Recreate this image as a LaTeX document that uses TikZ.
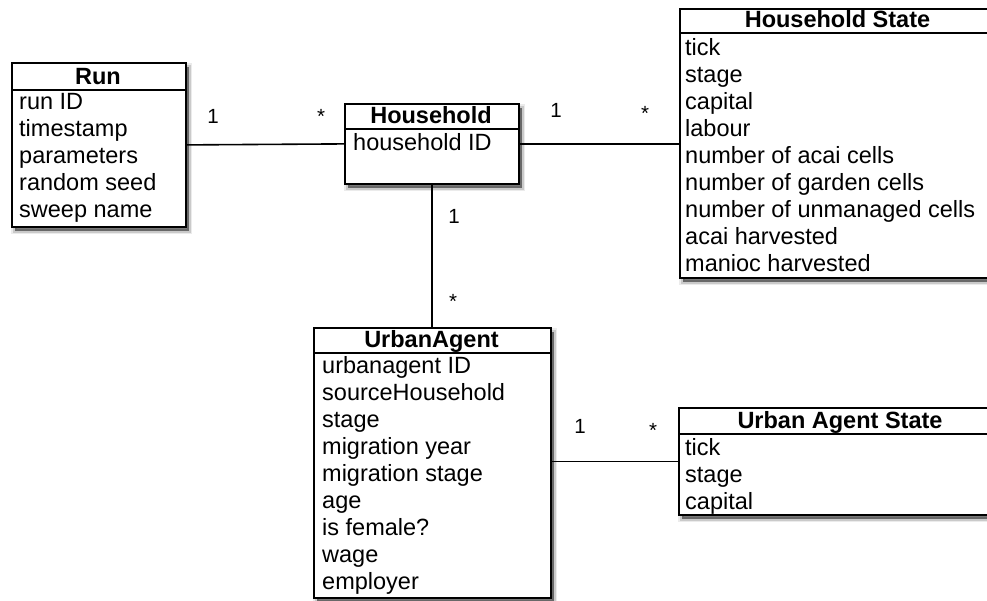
\documentclass[tikz,border=0pt]{standalone}
\usepackage{fontspec}
\setmainfont{Liberation Sans}
\usetikzlibrary{shadows}
\tikzset{
  softshadow/.style={
    general shadow={shadow xshift=3pt, shadow yshift=-4pt, fill=black, draw=black, line width=7pt, opacity=0.08},
    general shadow={shadow xshift=3pt, shadow yshift=-4pt, fill=black, draw=black, line width=3.5pt, opacity=0.14},
    general shadow={shadow xshift=3pt, shadow yshift=-4pt, fill=black, opacity=0.35}},
  classbox/.style={draw, line width=1.8pt, fill=white, inner sep=0pt, anchor=north west, softshadow},
  sepline/.style={line width=1.8pt},
  conn/.style={line width=1.6pt},
  title/.style={font=\fontsize{23.5}{27}\selectfont\bfseries, inner sep=0pt, anchor=base},
  attr/.style={font=\fontsize{23.5}{27}\selectfont, inner sep=0pt, anchor=base west},
  mult/.style={font=\fontsize{20.5}{24}\selectfont, inner sep=0pt, anchor=base}
}
\begin{document}
\begin{tikzpicture}[x=1pt, y=-1pt]
\useasboundingbox (0,0) rectangle (987,600);
\clip (0,0) rectangle (987,600);

% Run
\node[classbox, minimum width=174pt, minimum height=164pt] (run) at (11,62) {};
\draw[sepline] (11,90) -- (185,90);
\node[title] (runT) at (98,84) {Run};
\foreach \t [count=\i from 0] in {run ID, timestamp, parameters, random seed, sweep name}
  \node[attr] (runA\i) at (19,{109+27*\i}) {\t};

% Household
\node[classbox, minimum width=174pt, minimum height=80pt] (hh) at (344,103) {};
\draw[sepline] (344,129) -- (518,129);
\node[title] (hhT) at (431,123) {Household};
\node[attr] (hhA0) at (353,150) {household ID};

% Household State
\node[classbox, minimum width=317pt, minimum height=269pt] (hs) at (679,8) {};
\draw[sepline] (679,33) -- (996,33);
\node[title] (hsT) at (837.5,27) {Household State};
\foreach \t [count=\i from 0] in {tick, stage, capital, labour, number of acai cells, number of garden cells, number of unmanaged cells, acai harvested, manioc harvested}
  \node[attr] (hsA\i) at (685,{55+27*\i}) {\t};

% UrbanAgent
\node[classbox, minimum width=237pt, minimum height=270pt] (ua) at (313,327) {};
\draw[sepline] (313,353) -- (550,353);
\node[title] (uaT) at (431.5,347) {UrbanAgent};
\foreach \t [count=\i from 0] in {urbanagent ID, sourceHousehold, stage, migration year, migration stage, age, is female?, wage, employer}
  \node[attr] (uaA\i) at (322,{373+27*\i}) {\t};

% Urban Agent State
\node[classbox, minimum width=324pt, minimum height=107pt] (uas) at (678,407) {};
\draw[sepline] (678,434) -- (1002,434);
\node[title] (uasT) at (840,428) {Urban Agent State};
\foreach \t [count=\i from 0] in {tick, stage, capital}
  \node[attr] (uasA\i) at (685,{455+27*\i}) {\t};

% Connectors
\draw[conn] (run.east) -- (hh.west);
\draw[conn] (hh.east) -- (hh.east -| hs.west);
\draw[conn] (hh.south) -- (hh.south |- ua.north);
\draw[conn] (ua.east |- uas.west) -- (uas.west);

% Multiplicities
\node[mult] (m1) at (213,123) {1};
\node[mult] (m2) at (321,123) {*};
\node[mult] (m3) at (556,117) {1};
\node[mult] (m4) at (645,120) {*};
\node[mult] (m5) at (454,223) {1};
\node[mult] (m6) at (453,308) {*};
\node[mult] (m7) at (580,433) {1};
\node[mult] (m8) at (653,437) {*};
\end{tikzpicture}
\end{document}
